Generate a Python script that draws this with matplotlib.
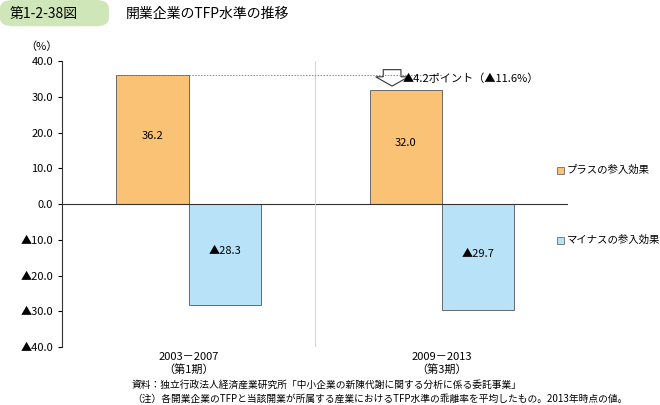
import matplotlib.pyplot as plt
from matplotlib.patches import FancyBboxPatch, FancyArrow
import numpy as np

plt.rcParams['font.family'] = 'Noto Sans CJK JP'

periods = ['2003－2007\n（第1期）', '2009－2013\n（第3期）']
plus_effect = [36.2, 32.0]
minus_effect = [-28.3, -29.7]
y_ticks = [40, 30, 20, 10, 0, -10, -20, -30, -40]


def fmt(v):
    return f'{v:.1f}' if v >= 0 else f'▲{-v:.1f}'


fig = plt.figure(figsize=(6.6, 4.05), dpi=100)
ax = fig.add_axes([0.094, 0.1432, 0.767, 0.706])

orange, blue = '#fac274', '#b8e2f8'
x = np.arange(len(periods))
w = 0.285
ax.bar(x - w / 2, plus_effect, w, color=orange, edgecolor='#555555', linewidth=0.6, label='プラスの参入効果')
ax.bar(x + w / 2, minus_effect, w, color=blue, edgecolor='#555555', linewidth=0.6, label='マイナスの参入効果')

for i in x:
    ax.text(i - w / 2, plus_effect[i] / 2 + 1, fmt(plus_effect[i]), ha='center', va='center', fontsize=8)
    ax.text(i + w / 2, minus_effect[i] / 2 + 1, fmt(minus_effect[i]), ha='center', va='center', fontsize=8)

ax.set_xlim(-0.5, 1.5)
ax.set_ylim(-40, 40)
ax.axhline(0, color='#333333', linewidth=0.8)
ax.axvline(0.5, color='#cccccc', linewidth=0.6)
ax.plot([0 - w, 1], [plus_effect[0]] * 2, color='#888888', linestyle=(0, (1.5, 1.5)), linewidth=0.7)

# down arrow and difference label
ax.add_patch(FancyArrow(0.804, 37.6, 0, -4.6, width=0.07, head_width=0.13, head_length=2.6,
                        length_includes_head=True, facecolor='white', edgecolor='#333333', linewidth=0.8))
diff = plus_effect[0] - plus_effect[1]
ax.text(0.845, 35.2, f'▲{diff:.1f}ポイント（▲{diff / plus_effect[0] * 100:.1f}%）',
        fontsize=8, va='center', ha='left')

ax.set_yticks(y_ticks)
ax.set_yticklabels([fmt(v) for v in y_ticks], fontsize=8)
ax.set_xticks(x)
ax.set_xticklabels(periods, fontsize=8, linespacing=1.2)
ax.tick_params(axis='x', length=0)
ax.tick_params(axis='y', length=3, direction='out')
for s in ['top', 'right', 'bottom']:
    ax.spines[s].set_visible(False)
ax.spines['left'].set_color('#333333')
ax.text(-0.04, 1.04, '（%）', transform=ax.transAxes, fontsize=8, ha='center')

# legend, manual
for yy, label, c in [(170, 'プラスの参入効果', orange), (240, 'マイナスの参入効果', blue)]:
    fy = 1 - yy / 405
    fig.patches.append(plt.Rectangle((557 / 660, fy - 0.01), 0.011, 0.018, transform=fig.transFigure,
                                     facecolor=c, edgecolor='#555555', linewidth=0.5))
    fig.text(567 / 660, fy, label, fontsize=7.5, va='center')

# title banner
fig.patches.append(FancyBboxPatch((0.0, 0.935), 0.165, 0.065, boxstyle='round,pad=0,rounding_size=0.02',
                                  transform=fig.transFigure, facecolor='#cfe6b8', edgecolor='none'))
fig.text(0.015, 0.966, '第1-2-38図', fontsize=10, va='center')
fig.text(0.19, 0.966, '開業企業のTFP水準の推移', fontsize=10, va='center')

fig.text(0.20, 1 - 385 / 405, '資料：独立行政法人経済産業研究所「中小企業の新陳代謝に関する分析に係る委託事業」',
         fontsize=7, va='center')
fig.text(0.20, 1 - 399 / 405, '（注）各開業企業のTFPと当該開業が所属する産業におけるTFP水準の乖離率を平均したもの。2013年時点の値。',
         fontsize=7, va='center')

fig.savefig('out.png', dpi=100)
